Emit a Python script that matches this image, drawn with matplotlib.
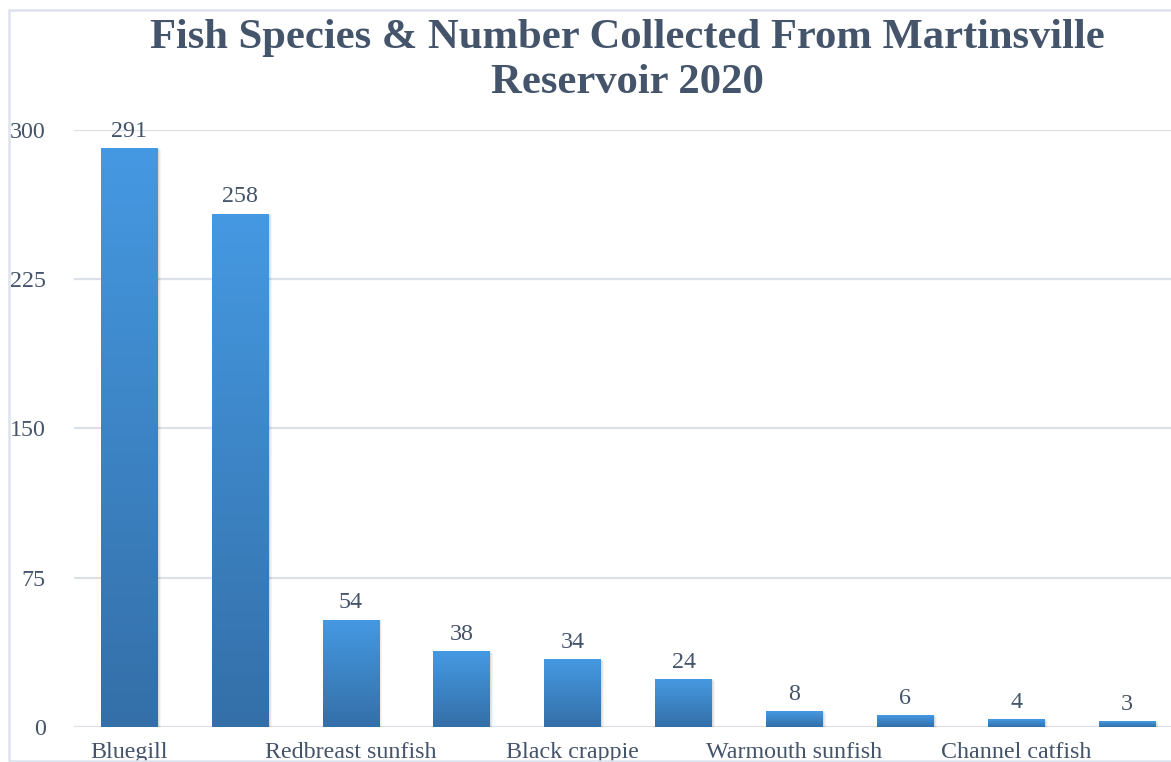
import matplotlib
matplotlib.use("Agg")
import matplotlib.pyplot as plt
import numpy as np
from matplotlib.patches import Rectangle
from matplotlib.colors import LinearSegmentedColormap

categories = ["Bluegill", "Largemouth bass", "Redbreast sunfish", "Green sunfish",
              "Black crappie", "Yellow bullhead", "Warmouth sunfish", "Golden shiner",
              "Channel catfish", "Gizzard shad"]
counts = [291, 258, 54, 38, 34, 24, 8, 6, 4, 3]
yticks = [0, 75, 150, 225, 300]
title = "Fish Species & Number Collected From Martinsville\nReservoir 2020"

W, H = 1171, 762
fig = plt.figure(figsize=(W / 100, H / 100), dpi=100)
fig.patch.set_facecolor("white")

txt = "#44546A"
grid_c = "#DCE0E8"
serif = ["Liberation Serif", "DejaVu Serif"]

x0, x1 = 73.6, 73.6 + 110.9 * 10
y0, y1 = 727, 130
ax = fig.add_axes([x0 / W, (H - y0) / H, (x1 - x0) / W, (y0 - y1) / H])
ax.set_xlim(-0.5, len(categories) - 0.5)
ax.set_ylim(0, 300)
for s in ax.spines.values():
    s.set_visible(False)
ax.set_yticks(yticks)
ax.set_yticklabels([str(v) for v in yticks], fontfamily=serif, fontsize=17.3, color=txt)
ax.tick_params(axis="y", length=0, pad=20)
ax.tick_params(axis="x", length=0, pad=11)
ax.set_xticks(range(len(categories)))
ax.set_xticklabels([c if i % 2 == 0 else "" for i, c in enumerate(categories)],
                   fontfamily=serif, fontsize=17.3, color=txt)
ax.yaxis.grid(True, color=grid_c, linewidth=1.6)
ax.set_axisbelow(True)

cmap = LinearSegmentedColormap.from_list("g", ["#346FA8", "#4599E2"])
grad = np.linspace(0, 1, 256).reshape(-1, 1)
bars = ax.bar(range(len(categories)), counts, width=0.51, color="none", zorder=3)
for b, v in zip(bars, counts):
    bx, bw, bh = b.get_x(), b.get_width(), b.get_height()
    for k, a in [(1.0, 0.04), (0.7, 0.05), (0.4, 0.06)]:
        sh = Rectangle((bx + 0.01 * k, -0.8 * k), bw + 0.02 * k, bh, facecolor="#000000",
                       alpha=a, linewidth=0, zorder=2)
        ax.add_patch(sh)
    im = ax.imshow(grad, extent=(bx, bx + bw, 0, bh), origin="lower", cmap=cmap,
                   aspect="auto", zorder=3)
    im.set_clip_path(b)
    ax.annotate(str(v), (bx + bw / 2, bh), xytext=(0, 4.5), textcoords="offset points",
                ha="center", va="bottom", fontfamily=serif, fontsize=17.3, color=txt,
                annotation_clip=False)
ax.set_xlim(-0.5, len(categories) - 0.5)
ax.set_ylim(0, 300)

fig.text(627 / W, 1 - 60.5 / H, title, ha="center", va="center", fontfamily=serif,
         fontsize=30.7, fontweight="bold", color=txt, linespacing=1.25)

border = Rectangle((9 / W, 1 - 761 / H), 1.2, (761 - 10) / H, transform=fig.transFigure,
                   fill=False, edgecolor="#DDE3EC", linewidth=1.8, zorder=0)
fig.patches.append(border)

fig.savefig("out.png", dpi=100)
